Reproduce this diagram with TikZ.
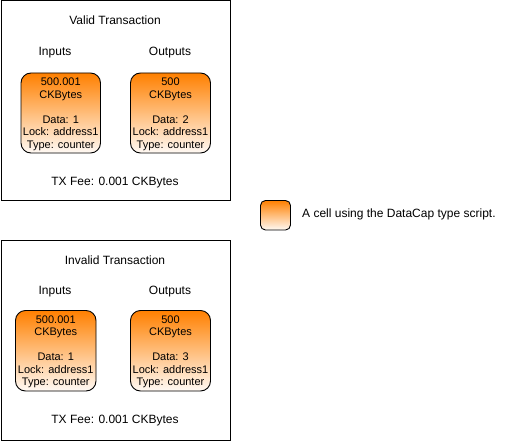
\documentclass[tikz,border=0pt]{standalone}
\usepackage{fontspec}
\setmainfont{Liberation Sans}
\definecolor{cellorange}{RGB}{255,128,0}
\definecolor{celllight}{RGB}{255,250,245}
\tikzset{
  frame/.style={draw=black, line width=1pt, fill=white},
  cell/.style={draw=black, line width=0.9pt, rounded corners=10pt, top color=cellorange, bottom color=celllight},
  celltext/.style={align=center, inner sep=0pt, anchor=north, font=\fontsize{11}{12.5}\selectfont},
  lbl/.style={inner sep=0pt, anchor=base, font=\fontsize{12}{14}\selectfont},
}
\begin{document}
\begin{tikzpicture}[x=1pt,y=-1pt]
\useasboundingbox (0,0) rectangle (521,441);
% valid transaction
\draw[frame] (1,1) rectangle (230.5,200.5);
\node[lbl] (vtitle) at (115,25) {Valid Transaction};
\node[lbl] (vin) at (55,55.3) {Inputs};
\node[lbl] (vout) at (170,55.3) {Outputs};
\draw[cell] (21,73) rectangle (100.5,153);
\node[celltext] (vcin) at (60.75,77.8) {500.001\\CKBytes\\\mbox{}\\Data: 1\\Lock: address1\\Type: counter};
\draw[cell] (130.5,73) rectangle (210.5,153);
\node[celltext] (vcout) at (170.5,77.8) {500\\CKBytes\\\mbox{}\\Data: 2\\Lock: address1\\Type: counter};
\node[lbl] (vfee) at (115,185) {TX Fee: 0.001 CKBytes};
% invalid transaction
\draw[frame] (1,240.5) rectangle (230.5,440);
\node[lbl] (ititle) at (115,264.7) {Invalid Transaction};
\node[lbl] (iin) at (55,294.7) {Inputs};
\node[lbl] (iout) at (170,294.7) {Outputs};
\draw[cell] (15.5,310.5) rectangle (96,391);
\node[celltext] (icin) at (55.75,315.3) {500.001\\CKBytes\\\mbox{}\\Data: 1\\Lock: address1\\Type: counter};
\draw[cell] (130.5,310.5) rectangle (210.5,391);
\node[celltext] (icout) at (170.5,315.3) {500\\CKBytes\\\mbox{}\\Data: 3\\Lock: address1\\Type: counter};
\node[lbl] (ifee) at (115,423.7) {TX Fee: 0.001 CKBytes};
% legend
\draw[cell, rounded corners=5pt] (260.5,200.5) rectangle (290.5,230);
\node[lbl, anchor=base west] (legend) at (302,217) {A cell using the DataCap type script.};
\end{tikzpicture}
\end{document}
